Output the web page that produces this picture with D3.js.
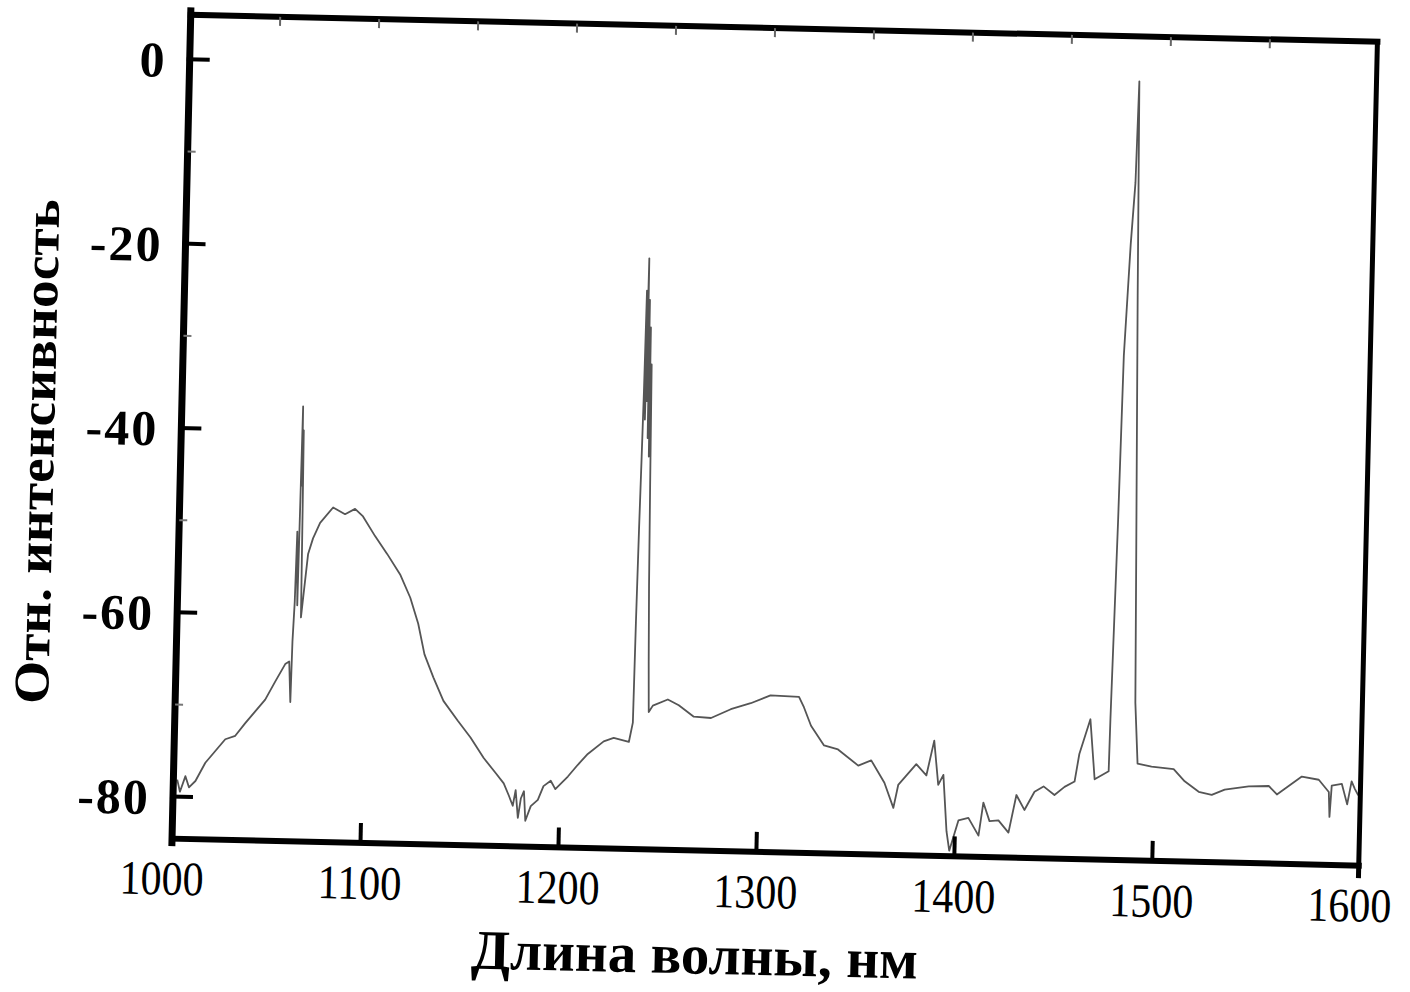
<!DOCTYPE html>
<html><head><meta charset="utf-8">
<script src="https://cdn.jsdelivr.net/npm/d3@7"></script>
<style>body{margin:0;background:#fff;overflow:hidden}</style>
</head><body>
<svg id="chart" width="1410" height="992"></svg>
<script>
// ---- data ----
const wavelength = [
 1007.0,1008.5,1011.1,1013.0,1016.2,1021.0,1025.9,1030.8,1035.8,1040.7,
 1045.6,1050.5,1055.4,1060.2,1062.2,1063.2,1063.6,1064.3,1064.8,1065.6,
 1066.3,1066.6,1066.9,1067.2,1067.6,1070.5,1072.8,1076.2,1082.6,1088.7,
 1093.7,1097.8,1104.1,1110.4,1117.2,1122.6,1126.9,1130.4,1135.2,1140.5,
 1147.9,1154.6,1161.5,1167.7,1171.9,1174.6,1176.7,1178.0,1179.4,1180.7,
 1182.2,1183.2,1185.8,1189.3,1192.0,1195.6,1198.0,1204.2,1209.1,1214.0,
 1221.9,1226.9,1234.6,1236.4,1236.8,1237.3,1237.8,1238.2,1238.6,1239.0,
 1239.4,1239.8,1240.2,1240.6,1241.0,1241.4,1241.8,1242.4,1243.0,1243.7,
 1244.3,1246.3,1253.8,1259.4,1267.1,1275.8,1285.7,1295.7,1305.6,1320.0,
 1322.6,1326.4,1333.2,1340.3,1350.7,1357.2,1364.1,1368.9,1371.1,1380.0,
 1385.2,1388.8,1391.3,1393.8,1396.0,1397.6,1401.9,1406.9,1412.2,1414.3,
 1417.6,1422.1,1427.3,1430.9,1435.1,1440.0,1444.5,1450.1,1455.1,1460.1,
 1462.2,1467.4,1470.2,1477.2,1477.5,1479.1,1480.1,1482.3,1484.0,1484.8,
 1486.4,1488.6,1489.9,1491.7,1498.8,1510.0,1515.7,1522.9,1529.5,1536.0,
 1548.1,1558.2,1562.4,1574.8,1583.4,1588.6,1589.2,1590.0,1595.1,1598.0,
 1600.0,1601.7,1603.5
];
const intensity = [
 -78.2,-79.5,-77.8,-79.0,-78.3,-76.3,-75.0,-73.7,-73.3,-71.9,
 -70.6,-69.3,-67.3,-65.4,-65.1,-69.5,-62.9,-58.6,-51.0,-59.0,
 -37.4,-46.0,-40.0,-48.0,-60.3,-53.4,-51.7,-50.0,-48.3,-49.0,
 -48.4,-49.2,-51.3,-53.2,-55.4,-57.9,-60.7,-64.0,-66.5,-69.0,
 -71.1,-72.9,-75.1,-76.7,-77.8,-79.1,-80.2,-78.5,-81.5,-79.4,
 -78.6,-81.8,-80.2,-79.5,-78.0,-77.4,-78.3,-76.9,-75.6,-74.4,
 -73.0,-72.6,-73.0,-70.9,-60.0,-50.0,-42.0,-35.0,-24.0,-38.0,
 -20.5,-36.0,-25.0,-40.0,-28.0,-42.0,-32.0,-45.0,-56.0,-64.2,
 -69.7,-69.0,-68.3,-68.9,-70.1,-70.2,-69.2,-68.5,-67.6,-67.7,
 -68.8,-70.8,-72.9,-73.3,-75.0,-74.4,-76.8,-79.5,-77.0,-74.7,
 -75.9,-72.1,-76.9,-75.8,-81.9,-84.0,-80.7,-80.4,-82.3,-78.7,
 -80.7,-80.6,-81.9,-77.8,-79.4,-77.4,-76.8,-77.7,-76.8,-76.2,
 -73.2,-69.4,-75.9,-75.0,-69.3,-47.7,-29.9,-17.8,-11.1,-0.1,
 -23.3,-50.9,-67.5,-74.1,-74.4,-74.6,-75.9,-77.0,-77.3,-76.7,
 -76.3,-76.2,-77.1,-75.1,-75.4,-76.7,-79.4,-76.0,-75.8,-78.0,
 -75.5,-76.3,-77.0
];
const xTickLabels = [1000, 1100, 1200, 1300, 1400, 1500, 1600];
const xMajorTicks = [1100, 1200, 1300, 1400, 1500];
const xTopTicks = [1050, 1100, 1150, 1200, 1250, 1300, 1350, 1400, 1450, 1500, 1550];
const yTickLabels = [0, -20, -40, -60, -80];
const yMinorTicks = [-10, -30, -50, -70];
const xTitle = "Длина волны, нм";
const yTitle = "Отн. интенсивность";

// ---- layout ----
const svg = d3.select("#chart");
svg.append("rect").attr("width",1410).attr("height",992).attr("fill","#fff");
const g = svg.append("g").attr("transform","rotate(1.3,765,450)");

const x = d3.scaleLinear().domain([1000,1600]).range([171,1359]);
const y = d3.scaleLinear().domain([-80,0]).range([809.5,72]);
const F = {left:181, right:1368, top:28, bottom:852};

const serif = "'Liberation Serif','Times New Roman',serif";

// data line
const pts = wavelength.map((w,i)=>[w,intensity[i]]);
g.append("path")
  .datum(pts)
  .attr("fill","none")
  .attr("stroke","#555")
  .attr("stroke-width",1.8)
  .attr("stroke-linejoin","round")
  .attr("d", d3.line().x(d=>x(d[0])).y(d=>y(d[1])));

// frame
const frame = g.append("g").attr("stroke","#000").attr("stroke-linecap","square");
frame.append("line").attr("x1",F.left).attr("x2",F.right).attr("y1",F.top).attr("y2",F.top).attr("stroke-width",6);
frame.append("line").attr("x1",F.left).attr("x2",F.right).attr("y1",F.bottom).attr("y2",F.bottom).attr("stroke-width",6);
frame.append("line").attr("x1",F.left).attr("x2",F.left).attr("y1",F.top-4).attr("y2",F.bottom+4).attr("stroke-width",7);
frame.append("line").attr("x1",F.right).attr("x2",F.right).attr("y1",F.top).attr("y2",F.bottom+10).attr("stroke-width",5);

// bottom major ticks (inward)
const xb = g.append("g").attr("transform",`translate(0,${F.bottom})`)
  .call(d3.axisBottom(x).tickValues(xMajorTicks).tickSize(-20).tickFormat(""));
xb.select(".domain").remove();
xb.selectAll(".tick line").attr("stroke","#000").attr("stroke-width",4);

// top minor ticks
const xt = g.append("g").attr("transform",`translate(0,${F.top})`)
  .call(d3.axisTop(x).tickValues(xTopTicks).tickSize(-9).tickFormat(""));
xt.select(".domain").remove();
xt.selectAll(".tick line").attr("stroke","#666").attr("stroke-width",2);

// x tick labels
const xl = g.append("g").attr("transform",`translate(0,${F.bottom})`)
  .call(d3.axisBottom(x).tickValues(xTickLabels).tickSize(0).tickFormat(d=>String(d)));
xl.select(".domain").remove();
xl.selectAll(".tick text")
  .attr("y",56).attr("dy",0)
  .attr("fill","#000")
  .style("font-family",serif).style("font-size","48px")
  .attr("textLength",84).attr("lengthAdjust","spacingAndGlyphs");

// left axis ticks + labels
const yl = g.append("g").attr("transform",`translate(${F.left},0)`)
  .call(d3.axisLeft(y).tickValues(yTickLabels).tickSize(-20).tickFormat(d=>String(d)));
yl.select(".domain").remove();
yl.selectAll(".tick line").attr("stroke","#000").attr("stroke-width",4).attr("x1",-3);
yl.selectAll(".tick text")
  .attr("x",-23).attr("dy","0.36em")
  .attr("fill","#000")
  .style("font-family",serif).style("font-size","50px").style("font-weight","bold")
  .style("letter-spacing","2px");

const ym = g.append("g").attr("transform",`translate(${F.left},0)`)
  .call(d3.axisLeft(y).tickValues(yMinorTicks).tickSize(-8).tickFormat(""));
ym.select(".domain").remove();
ym.selectAll(".tick line").attr("stroke","#777").attr("stroke-width",2);

// titles
g.append("text")
  .attr("x",706).attr("y",975)
  .attr("text-anchor","middle")
  .attr("fill","#000")
  .style("font-family",serif).style("font-size","56px").style("font-weight","bold")
  .attr("textLength",447).attr("lengthAdjust","spacingAndGlyphs")
  .text(xTitle);

g.append("text")
  .attr("transform","translate(54,468) rotate(-90)")
  .attr("text-anchor","middle")
  .attr("fill","#000")
  .style("font-family",serif).style("font-size","50px").style("font-weight","bold")
  .attr("textLength",505).attr("lengthAdjust","spacingAndGlyphs")
  .text(yTitle);
</script>
</body></html>
